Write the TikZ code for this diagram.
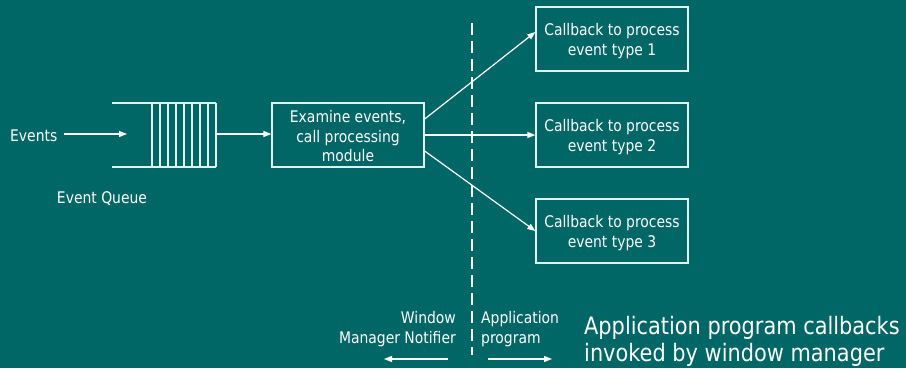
\documentclass[tikz,border=0pt]{standalone}
\usepackage{fontspec}
\setmainfont{DejaVu Sans}[FakeStretch=0.87]
\usetikzlibrary{arrows.meta}
\definecolor{bgteal}{RGB}{0,102,102}
\definecolor{lineclr}{RGB}{225,240,240}
\begin{document}
\begin{tikzpicture}[x=1pt,y=-1pt,
  every node/.style={text=white, font=\fontsize{16}{19.5}\selectfont, inner sep=0pt},
  boxnode/.style={draw=lineclr, line width=1.3pt, minimum width=152pt, minimum height=64pt, align=center},
  boxtext/.style={align=center},
  conn/.style={draw=white, line width=1.2pt, -{Triangle[length=8pt,width=6pt]}},
  qline/.style={draw=lineclr, line width=1.2pt}]
\fill[bgteal] (0,0) rectangle (906,368);
\useasboundingbox (0,0) rectangle (906,368);
% events input
\node[anchor=west] (events) at (10,136) {Events};
\coordinate (evstart) at (64,134);
\coordinate (qin) at (127,134);
\draw[conn] (evstart) -- (qin);
% queue
\coordinate (qtl) at (112,103);
\coordinate (qtr) at (216,103);
\coordinate (qbl) at (112,167);
\coordinate (qbr) at (216,167);
\draw[qline] (qtl) -- (qtr);
\draw[qline] (qbl) -- (qbr);
\foreach \x in {152,160,...,216} {\draw[qline] (\x,103) -- (\x,167);}
\node (eq) at (102,199) {Event Queue};
\coordinate (qout) at (216,134);
% examine box
\node[boxnode] (ex) at (348,135) {};
\node[boxtext] (ext) at (348,136.5) {Examine events,\\call processing\\module};
\draw[conn] (qout) -- (ex.west |- qout);
% callbacks
\node[boxnode] (cb1) at (612,39) {};
\node[boxnode] (cb2) at (612,135) {};
\node[boxnode] (cb3) at (612,231) {};
\node[boxtext] (cb1t) at (612,41) {Callback to process\\event type 1};
\node[boxtext] (cb2t) at (612,137) {Callback to process\\event type 2};
\node[boxtext] (cb3t) at (612,233) {Callback to process\\event type 3};
\draw[conn] ([yshift=16pt]ex.east) -- ([yshift=7pt]cb1.west);
\draw[conn] (ex.east) -- (cb2.west);
\draw[conn] ([yshift=-16pt]ex.east) -- ([yshift=0pt]cb3.west);
% dashed divider
\coordinate (dtop) at (472,23);
\coordinate (dbot) at (472,355);
\draw[white, line width=2pt, dash pattern=on 12pt off 6pt] (dtop) -- (dbot);
% bottom labels
\node[anchor=east, align=right] (wm) at (456,329) {Window\\Manager Notifier};
\node[anchor=west, align=left] (ap) at (481,329) {Application\\program};
\coordinate (la1) at (448,359);
\coordinate (la2) at (384,359);
\coordinate (ra1) at (488,359);
\coordinate (ra2) at (552,359);
\draw[conn] (la1) -- (la2);
\draw[conn] (ra1) -- (ra2);
\node[anchor=west, align=left, font=\fontsize{24}{27}\selectfont] (big) at (584,341) {Application program callbacks\\invoked by window manager};
\end{tikzpicture}
\end{document}
